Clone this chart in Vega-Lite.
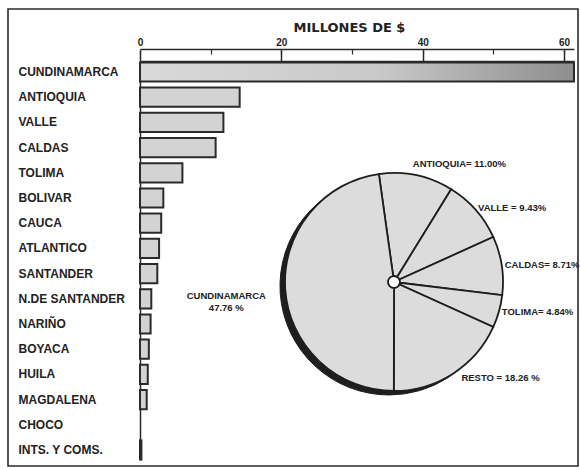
{
  "$schema": "https://vega.github.io/schema/vega-lite/v6.json",
  "width": 570,
  "height": 457,
  "autosize": {"type": "none"},
  "padding": {"left": 8, "top": 9, "right": 2, "bottom": 4},
  "background": "white",
  "config": {"view": {"stroke": "#2a2a2a", "strokeWidth": 1.6}, "font": "Liberation Sans"},
  "layer": [
    {
      "data": {"values": [
        {"dept": "CUNDINAMARCA", "value": 61.4},
        {"dept": "ANTIOQUIA", "value": 14.1},
        {"dept": "VALLE", "value": 11.8},
        {"dept": "CALDAS", "value": 10.7},
        {"dept": "TOLIMA", "value": 6.0},
        {"dept": "BOLIVAR", "value": 3.3},
        {"dept": "CAUCA", "value": 3.0},
        {"dept": "ATLANTICO", "value": 2.7},
        {"dept": "SANTANDER", "value": 2.45},
        {"dept": "N.DE SANTANDER", "value": 1.6},
        {"dept": "NARIÑO", "value": 1.5},
        {"dept": "BOYACA", "value": 1.25},
        {"dept": "HUILA", "value": 1.1},
        {"dept": "MAGDALENA", "value": 0.95},
        {"dept": "CHOCO", "value": 0},
        {"dept": "INTS. Y COMS.", "value": 0.2}
      ]},
      "encoding": {
        "y": {
          "field": "dept", "type": "nominal", "sort": null,
          "scale": {"range": [53.4, 450.6], "paddingInner": 0.238, "paddingOuter": 0},
          "axis": {
            "orient": "left", "offset": -132, "title": null, "ticks": false, "tickSize": 0,
            "labelPadding": 122, "labelAlign": "left", "labelBaseline": "middle",
            "labelFont": "Liberation Sans", "labelFontWeight": "bold", "labelFontSize": 12,
            "labelColor": "#222", "labelLimit": 200,
            "domainColor": "#2a2a2a", "domainWidth": 1.5, "grid": false
          }
        }
      },
      "layer": [
        {
          "mark": {"type": "bar", "strokeWidth": 0},
          "encoding": {
            "x": {
              "field": "value", "type": "quantitative",
              "scale": {"domain": [0, 61.4], "range": [132, 566], "nice": false, "zero": true},
              "axis": {
                "orient": "top", "offset": -52, "values": [0, 20, 40, 60], "tickSize": 11,
                "tickColor": "#2a2a2a", "tickWidth": 1.5, "labels": false, "title": null,
                "domain": true, "domainColor": "#2a2a2a", "domainWidth": 1.5, "grid": false
              }
            },
            "fill": {
              "condition": {
                "test": "datum.dept === 'CUNDINAMARCA'",
                "value": {"gradient": "linear", "stops": [
                  {"offset": 0, "color": "#d9d9d9"},
                  {"offset": 0.55, "color": "#c9c9c9"},
                  {"offset": 1, "color": "#8e8e8e"}
                ]}
              },
              "value": "#d3d3d3"
            }
          }
        },
        {
          "mark": {"type": "bar", "fillOpacity": 0, "stroke": "#2a2a2a", "strokeWidth": 2},
          "encoding": {
            "x": {
              "field": "value", "type": "quantitative",
              "scale": {"domain": [0, 61.4], "range": [132, 566], "nice": false, "zero": true},
              "axis": {
                "orient": "top", "offset": -40, "values": [0, 10, 20, 30, 40, 50, 60], "tickSize": -5,
                "tickColor": "#2a2a2a", "tickWidth": 1.2,
                "labelExpr": "datum.value % 20 === 0 ? datum.label : ''",
                "labelFont": "Liberation Sans", "labelFontWeight": "bold", "labelFontSize": 10,
                "labelColor": "#222", "labelPadding": 12, "labelBaseline": "middle",
                "labelFlush": false, "labelOverlap": false,
                "title": "MILLONES DE $", "titleFont": "DejaVu Sans", "titleFontWeight": "bold",
                "titleFontSize": 13, "titleColor": "#222", "titleX": 341, "titleY": -22,
                "titleBaseline": "middle", "titleAlign": "center",
                "domain": true, "domainColor": "#2a2a2a", "domainWidth": 1.5, "grid": false
              }
            },
            "strokeOpacity": {"condition": {"test": "datum.value === 0", "value": 0}, "value": 1}
          }
        }
      ],
      "resolve": {"axis": {"x": "independent"}}
    },
    {
      "data": {"values": [
        {"part": "ANTIOQUIA", "pct": 11.00, "label": "ANTIOQUIA= 11.00%", "ord": 1},
        {"part": "VALLE", "pct": 9.43, "label": "VALLE = 9.43%", "ord": 2},
        {"part": "CALDAS", "pct": 8.71, "label": "CALDAS= 8.71%", "ord": 3},
        {"part": "TOLIMA", "pct": 4.84, "label": "TOLIMA= 4.84%", "ord": 4},
        {"part": "RESTO", "pct": 18.26, "label": "RESTO = 18.26 %", "ord": 5},
        {"part": "CUNDINAMARCA", "pct": 47.76, "label": "CUNDINAMARCA\n47.76 %", "ord": 6}
      ]},
      "encoding": {
        "theta": {"field": "pct", "type": "quantitative", "stack": true, "scale": {"range": [-0.139, 6.144]}},
        "order": {"field": "ord", "type": "quantitative"},
        "x": {"datum": 0.6772, "type": "quantitative", "scale": {"domain": [0, 1], "nice": false}, "axis": null},
        "y": {"datum": 0.4026, "type": "quantitative", "scale": {"domain": [0, 1], "nice": false}, "axis": null}
      },
      "layer": [
        {
          "mark": {"type": "arc", "outerRadius": 109, "innerRadius": 60, "fill": "#1e1e1e", "stroke": "#1e1e1e", "strokeWidth": 1},
          "encoding": {
            "x": {"datum": 0.6684, "type": "quantitative", "scale": {"domain": [0, 1], "nice": false}, "axis": null},
            "y": {"datum": 0.3939, "type": "quantitative", "scale": {"domain": [0, 1], "nice": false}, "axis": null}
          }
        },
        {
          "mark": {"type": "arc", "outerRadius": 109, "innerRadius": 6, "fill": "#dcdcdc", "stroke": "#1e1e1e", "strokeWidth": 1.8}
        },
        {
          "mark": {"type": "text", "radius": 112, "align": "left", "baseline": "middle", "font": "Liberation Sans", "fontWeight": "bold", "fontSize": 9.5, "color": "#222"},
          "encoding": {"text": {"condition": {"test": "indexof(['VALLE','CALDAS','TOLIMA'], datum.part) >= 0", "field": "label"}, "value": ""}}
        },
        {
          "mark": {"type": "text", "radius": 121, "dx": -6, "align": "left", "baseline": "middle", "font": "Liberation Sans", "fontWeight": "bold", "fontSize": 9.5, "color": "#222"},
          "encoding": {"text": {"condition": {"test": "datum.part === 'ANTIOQUIA'", "field": "label"}, "value": ""}}
        },
        {
          "mark": {"type": "text", "radius": 119, "dx": 3, "dy": -4, "align": "left", "baseline": "middle", "font": "Liberation Sans", "fontWeight": "bold", "fontSize": 9.5, "color": "#222"},
          "encoding": {"text": {"condition": {"test": "datum.part === 'RESTO'", "field": "label"}, "value": ""}}
        },
        {
          "mark": {"type": "text", "radius": 120, "dx": -48, "dy": 6, "align": "center", "baseline": "middle", "lineBreak": "\n", "font": "Liberation Sans", "fontWeight": "bold", "fontSize": 9.5, "color": "#222"},
          "encoding": {"text": {"condition": {"test": "datum.part === 'CUNDINAMARCA'", "field": "label"}, "value": ""}}
        }
      ]
    }
  ],
  "resolve": {"scale": {"x": "independent", "y": "independent"}}
}
